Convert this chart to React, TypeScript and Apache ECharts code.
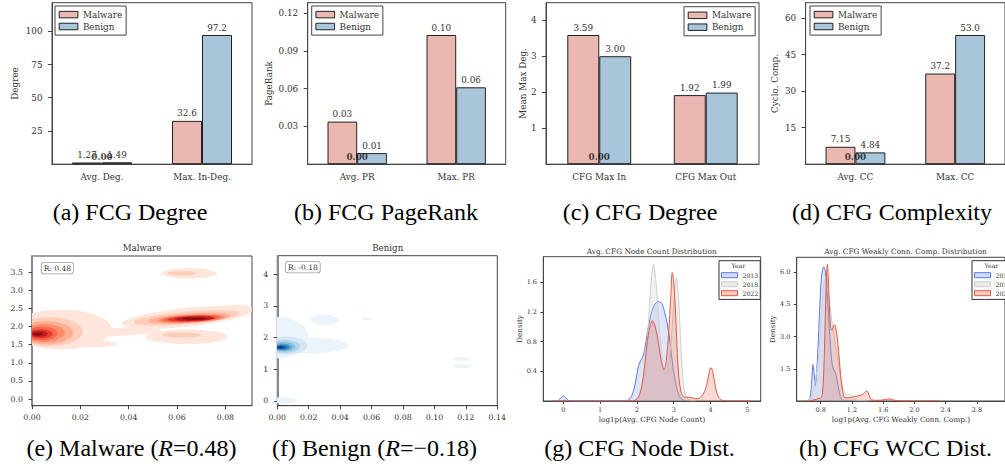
import React, { useEffect, useRef } from 'react';
import * as echarts from 'echarts';

const F = "'DejaVu Serif', serif";
const CAP = "'Liberation Serif', 'Times New Roman', serif";
const AX = '#444';
const TXT = '#333';

// ---------- top row data ----------
const degCats = ['Avg. Deg.', 'Max. In-Deg.'];
const degMalware = [1.27, 32.6];
const degBenign = [1.49, 97.2];
const degTicks = [25, 50, 75, 100];

const prCats = ['Avg. PR', 'Max. PR'];
const prMalware = [0.0338, 0.1025];
const prBenign = [0.0088, 0.061];
const prTicks = [0.03, 0.06, 0.09, 0.12];

const cfgCats = ['CFG Max In', 'CFG Max Out'];
const cfgMalware = [3.59, 1.92];
const cfgBenign = [3.0, 1.99];
const cfgTicks = [1, 2, 3, 4];

const ccCats = ['Avg. CC', 'Max. CC'];
const ccMalware = [7.15, 37.2];
const ccBenign = [4.84, 53.0];
const ccTicks = [15, 30, 45, 60];

const zeroLabel = [0, 0]; // stray "0.00" label at first category

// ---------- bottom row data ----------
const malwareR = 0.48;
const benignR = -0.18;
// [cx, cy, rx, ry, tiltDeg, level]
const malwareBlobs = [
  [0.012, 1.92, 0.021, 0.55, 0, 0],
  [0.026, 1.52, 0.009, 0.09, 0, 0],
  [0.037, 1.86, 0.016, 0.11, 3, 0],
  [0.064, 2.26, 0.027, 0.26, 6, 0],
  [0.064, 1.72, 0.017, 0.2, 0, 0],
  [0.085, 2.5, 0.006, 0.1, 0, 0],
  [0.065, 3.47, 0.0115, 0.14, 0, 0],
  [0.007, 1.86, 0.014, 0.4, 0, 1],
  [0.064, 2.24, 0.022, 0.17, 5, 1],
  [0.062, 1.77, 0.008, 0.07, 0, 1],
  [0.062, 3.47, 0.006, 0.06, 0, 1],
  [0.006, 1.83, 0.011, 0.32, 0, 2],
  [0.065, 2.23, 0.017, 0.13, 4, 2],
  [0.005, 1.82, 0.0085, 0.25, 0, 3],
  [0.066, 2.22, 0.014, 0.11, 3, 3],
  [0.004, 1.81, 0.0065, 0.19, 0, 4],
  [0.066, 2.22, 0.012, 0.09, 3, 4],
  [0.0035, 1.8, 0.005, 0.13, 0, 5],
  [0.066, 2.22, 0.01, 0.075, 2, 5],
  [0.003, 1.8, 0.0035, 0.08, 0, 6],
  [0.067, 2.22, 0.008, 0.06, 2, 6],
  [0.0025, 1.79, 0.002, 0.04, 0, 7],
  [0.067, 2.22, 0.005, 0.035, 0, 7],
];
const benignBlobs = [
  [0.0, 2.0, 0.02, 0.65, 0, 0],
  [0.02, 1.75, 0.025, 0.25, 0, 0],
  [0.034, 1.68, 0.011, 0.06, 0, 0],
  [0.03, 2.56, 0.009, 0.16, 0, 0],
  [0.057, 2.58, 0.003, 0.04, 0, 0],
  [0.117, 1.32, 0.005, 0.05, 0, 0],
  [0.118, 1.1, 0.0065, 0.06, 0, 0],
  [0.004, 0.02, 0.009, 0.1, 0, 0],
  [0.006, 1.75, 0.013, 0.28, 0, 1],
  [0.005, 1.72, 0.0095, 0.2, 0, 2],
  [0.004, 1.71, 0.0075, 0.15, 0, 3],
  [0.0035, 1.7, 0.0058, 0.11, 0, 4],
  [0.003, 1.69, 0.0045, 0.08, 0, 5],
  [0.0025, 1.69, 0.0033, 0.055, 0, 6],
  [0.002, 1.69, 0.002, 0.035, 0, 7],
];
const malXTicks = [0, 0.02, 0.04, 0.06, 0.08];
const malYTicks = [0, 0.5, 1, 1.5, 2, 2.5, 3, 3.5];
const benXTicks = [0, 0.02, 0.04, 0.06, 0.08, 0.1, 0.12, 0.14];
const benYTicks = [0, 1, 2, 3, 4];

const years = ['2013', '2018', '2022'];
const node2013 = [[-0.3, 0], [-0.15, 0.005], [-0.07, 0.04], [0, 0.072], [0.07, 0.04], [0.15, 0.005], [0.3, 0], [1.6, 0], [1.75, 0.01], [1.85, 0.06], [1.95, 0.22], [2.03, 0.45], [2.1, 0.54], [2.18, 0.62], [2.27, 0.88], [2.37, 1.14], [2.47, 1.29], [2.58, 1.34], [2.68, 1.31], [2.75, 1.2], [2.82, 1.05], [2.9, 0.8], [2.98, 0.45], [3.07, 0.2], [3.16, 0.06], [3.25, 0.015], [3.4, 0]];
const node2018 = [[1.9, 0], [2.0, 0.03], [2.1, 0.12], [2.2, 0.4], [2.3, 0.95], [2.37, 1.5], [2.45, 1.84], [2.52, 1.6], [2.6, 1.05], [2.68, 0.6], [2.76, 0.38], [2.84, 0.42], [2.92, 0.75], [3.0, 1.3], [3.07, 1.66], [3.13, 1.4], [3.2, 0.7], [3.26, 0.25], [3.33, 0.06], [3.45, 0.01], [3.6, 0]];
const node2022 = [[-0.27, 0], [1.8, 0], [1.95, 0.01], [2.05, 0.06], [2.15, 0.25], [2.25, 0.65], [2.33, 0.95], [2.42, 1.08], [2.5, 1.0], [2.58, 0.8], [2.66, 0.55], [2.74, 0.42], [2.8, 0.55], [2.86, 0.9], [2.92, 1.4], [2.96, 1.73], [3.0, 1.6], [3.05, 1.2], [3.12, 0.45], [3.2, 0.12], [3.3, 0.05], [3.4, 0.05], [3.5, 0.045], [3.6, 0.03], [3.7, 0.04], [3.8, 0.09], [3.9, 0.22], [3.97, 0.4], [4.01, 0.45], [4.06, 0.4], [4.13, 0.2], [4.22, 0.05], [4.35, 0.005], [4.5, 0], [5.1, 0]];
const nodeXTicks = [0, 1, 2, 3, 4, 5];
const nodeYTicks = [0.4, 0.8, 1.2, 1.6];

const wcc2013 = [[0.62, 0], [0.66, 0.1], [0.685, 1.0], [0.7, 1.7], [0.715, 1.3], [0.73, 0.72], [0.75, 1.5], [0.77, 2.9], [0.79, 4.6], [0.81, 5.8], [0.84, 6.26], [0.86, 6.0], [0.88, 5.2], [0.9, 4.0], [0.92, 2.8], [0.94, 1.9], [0.96, 1.5], [0.99, 1.3], [1.02, 0.75], [1.05, 0.22], [1.09, 0.02], [1.2, 0]];
const wcc2018 = [[0.63, 0], [0.66, 0.08], [0.69, 0.35], [0.72, 0.8], [0.76, 1.6], [0.8, 3.5], [0.84, 5.5], [0.87, 5.8], [0.9, 5.0], [0.94, 3.8], [0.98, 2.8], [1.02, 1.9], [1.06, 1.0], [1.1, 0.45], [1.14, 0.3], [1.17, 0.32], [1.2, 0.2], [1.25, 0.05], [1.3, 0.01], [1.4, 0]];
const wcc2022 = [[0.6, 0], [0.68, 0.02], [0.72, 0.06], [0.76, 0.1], [0.8, 0.15], [0.82, 0.3], [0.84, 1.5], [0.86, 4.2], [0.875, 6.0], [0.885, 6.37], [0.895, 5.9], [0.91, 4.5], [0.925, 3.5], [0.94, 3.3], [0.96, 3.45], [0.975, 3.56], [0.99, 3.45], [1.01, 3.0], [1.03, 2.3], [1.05, 1.4], [1.07, 0.7], [1.09, 0.3], [1.11, 0.15], [1.16, 0.15], [1.22, 0.2], [1.27, 0.23], [1.33, 0.3], [1.39, 0.46], [1.44, 0.1], [1.5, 0.03], [1.6, 0.05], [1.68, 0.1], [1.75, 0.03], [1.85, 0.005], [2.32, 0]];
const wccXTicks = [0.8, 1.2, 1.6, 2.0, 2.4, 2.8];
const wccYTicks = [1.5, 3.0, 4.5, 6.0];

// ---------- styles ----------
const MAL = '#ebb7b1';
const BEN = '#a9c5d9';
const REDS = ['#fee6dc', '#fdcdb9', '#fcaf93', '#fc8d6d', '#f6694c', '#e33b2e', '#bf1a1f', '#8c0c14'];
const BLUES = ['#ebf3fb', '#d3e4f3', '#b4d3e9', '#8bbfdd', '#5ba3d0', '#3383be', '#1460a8', '#0a3a78'];
const YEAR_LINE = ['#5b7be0', '#cfcfcf', '#e25a43'];
const YEAR_FILL = ['rgba(106,139,239,0.3)', 'rgba(200,200,200,0.4)', 'rgba(228,100,78,0.35)'];

function blobRender(palette: string[]) {
  return (params: any, api: any) => {
    const c = api.coord([api.value(0), api.value(1)]);
    const s = api.size([api.value(2), api.value(3)]);
    const a = (api.value(4) * Math.PI) / 180;
    const lvl = api.value(5);
    const pts: number[][] = [];
    for (let k = 0; k < 48; k++) {
      const t = (k / 48) * Math.PI * 2;
      const ex = s[0] * Math.cos(t);
      const ey = s[1] * Math.sin(t);
      const rx = ex * Math.cos(a) - ey * Math.sin(a);
      const ry = ex * Math.sin(a) + ey * Math.cos(a);
      pts.push([c[0] + rx, c[1] - ry]);
    }
    return { type: 'polygon', shape: { points: pts }, style: { fill: palette[lvl] } };
  };
}

function buildOption() {
  const grid: any[] = [];
  const xAxis: any[] = [];
  const yAxis: any[] = [];
  const series: any[] = [];
  const legend: any[] = [];
  const graphic: any[] = [];

  const top = [
    { cats: degCats, mal: degMalware, ben: degBenign, ticks: degTicks, dec: 0, lab: (v: number) => v.toPrecision(3), name: 'Degree', gap: 32.6, g: [52, 2.7, 200, 161.5], lg: [55, 6] },
    { cats: prCats, mal: prMalware, ben: prBenign, ticks: prTicks, dec: 2, lab: (v: number) => v.toFixed(2), name: 'PageRank', gap: 34.3, g: [307.7, 2.7, 198, 161.5], lg: [311.7, 6] },
    { cats: cfgCats, mal: cfgMalware, ben: cfgBenign, ticks: cfgTicks, dec: 0, lab: (v: number) => v.toFixed(2), name: 'Mean Max Deg.', gap: 18.9, g: [546, 2.7, 213, 161.5], lg: [684, 6.7] },
    { cats: ccCats, mal: ccMalware, ben: ccBenign, ticks: ccTicks, dec: 0, lab: (v: number) => v.toPrecision(3), name: 'Cyclo. Comp.', gap: 26.2, g: [805.6, 2.7, 206.8, 161.5], lg: [810, 6] },
  ];

  top.forEach((p, i) => {
    grid.push({ left: p.g[0], top: p.g[1], width: p.g[2], height: p.g[3], show: true, borderColor: AX, borderWidth: 1, backgroundColor: 'transparent' });
    xAxis.push({
      gridIndex: i, type: 'category', data: p.cats,
      axisLine: { lineStyle: { color: AX, width: 1 } },
      axisTick: { alignWithLabel: true, length: 4, lineStyle: { color: AX } },
      axisLabel: { fontFamily: F, fontSize: 8.8, color: TXT, margin: 8 },
    });
    yAxis.push({
      gridIndex: i, type: 'value', min: 0, max: 1.25 * Math.max(...p.mal, ...p.ben),
      name: p.name, nameLocation: 'middle', nameGap: p.gap,
      nameTextStyle: { fontFamily: F, fontSize: 8.8, color: TXT },
      axisLine: { show: true, lineStyle: { color: AX } },
      axisTick: { show: true, length: 4, customValues: p.ticks, lineStyle: { color: AX } },
      axisLabel: { customValues: p.ticks, formatter: (v: number) => v.toFixed(p.dec), fontFamily: F, fontSize: 8.8, color: TXT, margin: 9.5 },
      splitLine: { show: false },
    });
    const mk = (name: string, data: number[], color: string) => ({
      type: 'bar', name, xAxisIndex: i, yAxisIndex: i, data, barWidth: '30%', barGap: '0%',
      itemStyle: { color, borderColor: '#222', borderWidth: 1 },
      label: { show: true, position: 'top', distance: 3, formatter: (q: any) => p.lab(q.value), fontFamily: F, fontSize: 8.8, color: TXT },
    });
    series.push(mk('Malware', p.mal, MAL), mk('Benign', p.ben, BEN));
    series.push({
      type: 'scatter', xAxisIndex: i, yAxisIndex: i, data: [zeroLabel], symbolSize: 0, silent: true, z: 10,
      label: { show: true, position: 'top', distance: 2.5, formatter: (q: any) => q.value[1].toFixed(2), fontFamily: F, fontSize: 8.8, fontWeight: 'bold', color: '#111' },
    });
    legend.push({
      data: ['Malware', 'Benign'], left: p.lg[0], top: p.lg[1], orient: 'vertical', icon: 'rect',
      itemWidth: 18.7, itemHeight: 6.5, itemGap: 2.9, padding: [4.1, 4, 4.1, 3.7],
      borderColor: AX, borderWidth: 1, backgroundColor: '#fff', selectedMode: false,
      itemStyle: { borderColor: '#222', borderWidth: 1 },
      textStyle: { fontFamily: F, fontSize: 8.8, color: TXT },
    });
  });

  // bottom row
  const bot = [
    { g: [32, 256, 220, 149.7], x: [0, 0.091], y: [-0.185, 3.95], xt: malXTicks, yt: malYTicks, xd: 2, yd: 1, fs: 7.8 },
    { g: [277.3, 255.7, 220, 150], x: [0, 0.14], y: [-0.15, 4.58], xt: benXTicks, yt: benYTicks, xd: 2, yd: 0, fs: 7.8 },
    { g: [543.3, 256.7, 217.4, 144.3], x: [-0.543, 5.364], y: [0, 1.945], xt: nodeXTicks, yt: nodeYTicks, xd: 0, yd: 1, fs: 6.5, xn: 'log1p(Avg. CFG Node Count)', yn: 'Density', ygap: 19.7 },
    { g: [796.7, 257.3, 217, 143.7], x: [0.492, 3.16], y: [0, 6.7], xt: wccXTicks, yt: wccYTicks, xd: 1, yd: 1, fs: 6.5, xn: 'log1p(Avg. CFG Weakly Conn. Comp.)', yn: 'Density', ygap: 20.4 },
  ];
  bot.forEach((p: any, j) => {
    const i = j + 4;
    const small = p.fs < 7;
    grid.push({ left: p.g[0], top: p.g[1], width: p.g[2], height: p.g[3], show: true, borderColor: AX, borderWidth: 1, backgroundColor: 'transparent' });
    xAxis.push({
      gridIndex: i, type: 'value', min: p.x[0], max: p.x[1],
      name: p.xn, nameLocation: 'middle', nameGap: 15.4,
      nameTextStyle: { fontFamily: F, fontSize: 7.2, color: TXT },
      axisLine: { show: true, onZero: false, lineStyle: { color: AX } },
      axisTick: { show: true, length: small ? 3 : 3.5, customValues: p.xt, lineStyle: { color: AX } },
      axisLabel: { customValues: p.xt, formatter: (v: number) => v.toFixed(p.xd), fontFamily: F, fontSize: p.fs, color: TXT, margin: small ? 5.5 : 8 },
      splitLine: { show: false },
    });
    yAxis.push({
      gridIndex: i, type: 'value', min: p.y[0], max: p.y[1],
      name: p.yn, nameLocation: 'middle', nameGap: p.ygap,
      nameTextStyle: { fontFamily: F, fontSize: 7.2, color: TXT },
      axisLine: { show: true, onZero: false, lineStyle: { color: j < 2 ? '#888' : AX, width: j < 2 ? 2 : 1 } },
      axisTick: { show: true, length: small ? 3 : 3.5, customValues: p.yt, lineStyle: { color: AX } },
      axisLabel: { customValues: p.yt, formatter: (v: number) => v.toFixed(p.yd), fontFamily: F, fontSize: p.fs, color: TXT, margin: small ? 6.3 : 9 },
      splitLine: { show: false },
    });
  });

  series.push({ type: 'custom', xAxisIndex: 4, yAxisIndex: 4, data: malwareBlobs, clip: true, silent: true, renderItem: blobRender(REDS) });
  series.push({ type: 'custom', xAxisIndex: 5, yAxisIndex: 5, data: benignBlobs, clip: true, silent: true, renderItem: blobRender(BLUES) });

  const kde = (name: string, data: number[][], k: number, idx: number) => ({
    type: 'line', name, xAxisIndex: idx, yAxisIndex: idx, data, smooth: 0.35, symbol: 'none', clip: true,
    lineStyle: { color: YEAR_LINE[k], width: 1 }, itemStyle: { color: YEAR_LINE[k] },
    areaStyle: { color: YEAR_FILL[k] }, z: 2 + k,
  });
  [node2013, node2018, node2022].forEach((d, k) => series.push(kde(years[k], d, k, 6)));
  [wcc2013, wcc2018, wcc2022].forEach((d, k) => series.push(kde(years[k], d, k, 7)));

  [719, 972].forEach((lx) => {
    legend.push({
      data: years.map((y, k) => ({ name: y, itemStyle: { color: YEAR_FILL[k], borderColor: YEAR_LINE[k], borderWidth: 1 } })),
      left: lx, top: 260.7, orient: 'vertical', icon: 'rect',
      itemWidth: 16, itemHeight: 5, itemGap: 3, padding: [11.5, 2, 3.2, 2],
      borderColor: '#333', borderWidth: 1, backgroundColor: '#fff', selectedMode: false,
      textStyle: { fontFamily: F, fontSize: 6.2, color: TXT },
    });
    graphic.push({ type: 'text', x: lx + 19.5, y: 265.3, z: 100, style: { text: 'Year', font: `6.2px ${F}`, fill: TXT, textAlign: 'center', textVerticalAlign: 'middle', align: 'center', verticalAlign: 'middle' } });
  });

  const ctext = (text: string, x: number, y: number, font: string, extra: any = {}) => ({
    type: 'text', x, y, z: 100,
    style: { text, font, fill: '#000', textAlign: 'center', textVerticalAlign: 'middle', align: 'center', verticalAlign: 'middle', ...extra },
  });
  // panel titles
  graphic.push(ctext('Malware', 142, 247.5, `8.7px ${F}`, { fill: TXT }));
  graphic.push(ctext('Benign', 387.7, 247.5, `8.7px ${F}`, { fill: TXT }));
  graphic.push(ctext('Avg. CFG Node Count Distribution', 651.7, 251, `7.4px ${F}`, { fill: TXT }));
  graphic.push(ctext('Avg. CFG Weakly Conn. Comp. Distribution', 905.5, 251, `7.4px ${F}`, { fill: TXT }));
  // R boxes
  const rbox = (r: number, x: number, y: number) => ({
    type: 'text', x, y, z: 100,
    style: { text: `R: ${r.toFixed(2)}`, font: `7.5px ${F}`, fill: TXT, backgroundColor: '#fff', borderColor: '#999', borderWidth: 0.8, borderRadius: 2, padding: [1.5, 2, 1.2, 2], textAlign: 'left', textVerticalAlign: 'top', align: 'left', verticalAlign: 'top' },
  });
  graphic.push(rbox(malwareR, 41.7, 262.7));
  graphic.push(rbox(benignR, 286, 261.7));

  // captions
  const capFont = `24px ${CAP}`;
  graphic.push(ctext('(a) FCG Degree', 130, 212, capFont));
  graphic.push(ctext('(b) FCG PageRank', 386, 212, capFont));
  graphic.push(ctext('(c) CFG Degree', 640, 212, capFont));
  graphic.push(ctext('(d) CFG Complexity', 892, 212, capFont));
  const rich = { n: { fontFamily: CAP, fontSize: 24, fill: '#000' }, i: { fontFamily: CAP, fontSize: 24, fontStyle: 'italic', fill: '#000' } };
  const fmtR = (r: number) => (r < 0 ? '\u2212' + Math.abs(r).toFixed(2) : r.toFixed(2));
  graphic.push(ctext(`{n|(e) Malware (}{i|R}{n|=${fmtR(malwareR)})}`, 131.5, 448, capFont, { rich }));
  graphic.push(ctext(`{n|(f) Benign (}{i|R}{n|=${fmtR(benignR)})}`, 374.5, 448, capFont, { rich }));
  graphic.push(ctext('(g) CFG Node Dist.', 639.5, 448, capFont));
  graphic.push(ctext('(h) CFG WCC Dist.', 895.5, 448, capFont));

  return { animation: false, backgroundColor: '#fff', grid, xAxis, yAxis, series, legend, graphic };
}

export default function App() {
  const ref = useRef<HTMLDivElement>(null);
  useEffect(() => {
    const chart = echarts.init(ref.current!, undefined, { renderer: 'svg' });
    chart.setOption(buildOption() as any);
    return () => chart.dispose();
  }, []);
  return <div ref={ref} style={{ position: 'fixed', left: 0, top: 0, width: 1005, height: 469, background: '#fff' }} />;
}
